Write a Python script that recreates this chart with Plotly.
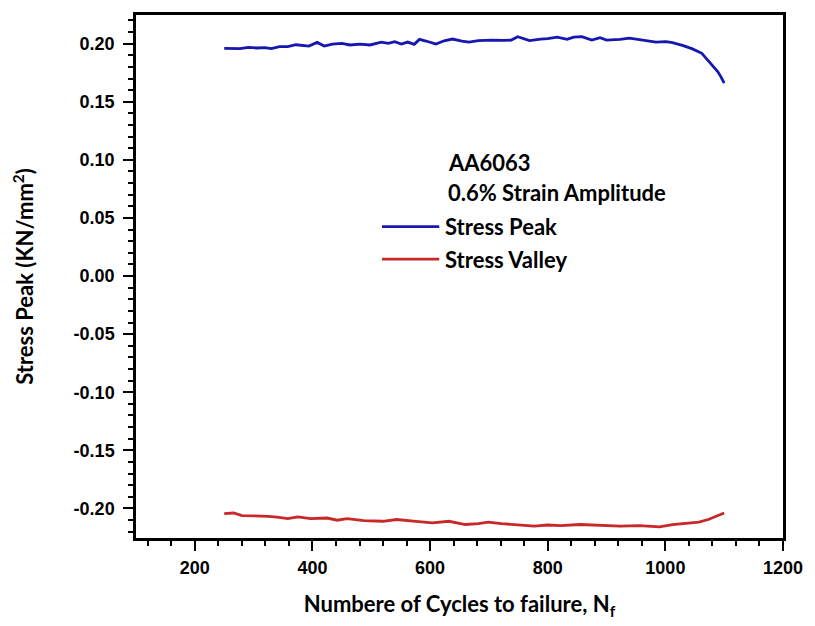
import plotly.graph_objects as go

# ---- data ----
peak_x = [250, 263, 277, 291, 305, 319, 330, 344, 358, 372, 386, 394, 408, 420, 434,
          450, 464, 481, 498, 517, 529, 540, 551, 562, 573, 582, 593, 610, 624, 638,
          654, 666, 682, 705, 727, 738, 749, 769, 788, 800, 816, 833, 844, 858, 875,
          889, 900, 923, 939, 962, 984, 1001, 1012, 1029, 1046, 1062, 1079, 1089, 1095, 1100]
peak_y = [0.1960, 0.1957, 0.1957, 0.1969, 0.1963, 0.1966, 0.1957, 0.1974, 0.1974, 0.1991,
          0.1980, 0.1980, 0.2011, 0.1980, 0.1997, 0.2003, 0.1989, 0.1997, 0.1989, 0.2014,
          0.2003, 0.2017, 0.1997, 0.2014, 0.1994, 0.2037, 0.2023, 0.1997, 0.2025, 0.2040,
          0.2023, 0.2014, 0.2026, 0.2031, 0.2028, 0.2031, 0.2060, 0.2026, 0.2040, 0.2043,
          0.2057, 0.2037, 0.2057, 0.2060, 0.2031, 0.2051, 0.2031, 0.2037, 0.2048, 0.2031,
          0.2014, 0.2017, 0.2009, 0.1985, 0.1955, 0.1917, 0.1820, 0.1760, 0.1710, 0.1660]

valley_x = [250, 266, 280, 300, 325, 340, 358, 375, 397, 425, 442, 459, 487, 520, 543,
            576, 604, 632, 660, 682, 699, 721, 744, 777, 800, 822, 855, 889, 923, 956,
            990, 1012, 1034, 1057, 1073, 1090, 1100]
valley_y = [-0.2045, -0.2040, -0.2062, -0.2062, -0.2068, -0.2075, -0.2088, -0.2074, -0.2088,
            -0.2083, -0.2102, -0.2088, -0.2105, -0.2111, -0.2096, -0.2111, -0.2125, -0.2111,
            -0.2139, -0.2131, -0.2119, -0.2131, -0.2139, -0.2153, -0.2143, -0.2148, -0.2139,
            -0.2148, -0.2153, -0.2148, -0.2159, -0.2139, -0.2131, -0.2119, -0.2096, -0.2062,
            -0.2040]

x_ticks = [200, 400, 600, 800, 1000, 1200]
y_ticks = [-0.20, -0.15, -0.10, -0.05, 0.00, 0.05, 0.10, 0.15, 0.20]
y_tick_text = ["-0.20", "-0.15", "-0.10", "-0.05", "0.00", "0.05", "0.10", "0.15", "0.20"]

BLUE = "#1616b0"
RED = "#c82828"
TXT_FONT = "Lato"
TICK_FONT = "Liberation Sans"

fig = go.Figure()
fig.add_trace(go.Scatter(x=peak_x, y=peak_y, mode="lines", name="Stress Peak",
                         line=dict(color=BLUE, width=2.8), showlegend=False))
fig.add_trace(go.Scatter(x=valley_x, y=valley_y, mode="lines", name="Stress Valley",
                         line=dict(color=RED, width=2.8), showlegend=False))

W, H = 815, 626
L, R, T, B = 136, 24, 13, 84
pw, ph = W - L - R, H - T - B

def px(x):
    return (x - L) / pw

def py(y):
    return (H - B - y) / ph

fig.update_layout(
    width=W, height=H,
    margin=dict(l=L, r=R, t=T, b=B),
    paper_bgcolor="white", plot_bgcolor="white",
    showlegend=False,
)

fig.update_xaxes(
    range=[100, 1200], tickmode="array", tickvals=x_ticks,
    ticks="outside", ticklen=10, tickwidth=2, tickcolor="black",
    showline=True, linewidth=2.5, linecolor="black", mirror=True,
    showgrid=False, zeroline=False, ticklabelstandoff=2,
    tickfont=dict(family=TICK_FONT, size=18, color="black", weight="bold"),
    minor=dict(dtick=40, tick0=0, ticks="outside", ticklen=5, tickwidth=2,
               tickcolor="black", showgrid=False),
    title=dict(text="Numbere of Cycles to failure, N<sub>f</sub>",
               font=dict(family=TXT_FONT, size=22, color="black", weight="bold"),
               standoff=20),
)
fig.update_yaxes(
    range=[-0.2255, 0.2247], tickmode="array", tickvals=y_ticks, ticktext=y_tick_text,
    ticks="outside", ticklen=10, tickwidth=2, tickcolor="black",
    showline=True, linewidth=2.5, linecolor="black", mirror=True,
    showgrid=False, zeroline=False, ticklabelstandoff=5,
    tickfont=dict(family=TICK_FONT, size=18, color="black", weight="bold"),
    minor=dict(dtick=0.01, tick0=0, ticks="outside", ticklen=5, tickwidth=2,
               tickcolor="black", showgrid=False),
    title=dict(text="Stress Peak (KN/mm<sup>2</sup>)",
               font=dict(family=TXT_FONT, size=22, color="black", weight="bold"),
               standoff=34),
)

# legend-like block drawn in paper coordinates
lab_font = dict(family=TXT_FONT, size=22, color="black", weight="bold")
for text, xx, yy in [("AA6063", 450, 162), ("0.6% Strain Amplitude", 450, 193),
                     ("Stress Peak", 447, 227), ("Stress Valley", 447, 260)]:
    fig.add_annotation(x=px(xx), y=py(yy), xref="paper", yref="paper", text=text,
                       showarrow=False, xanchor="left", yanchor="middle", font=lab_font)
for color, yy in [(BLUE, 227), (RED, 260)]:
    fig.add_shape(type="line", xref="paper", yref="paper", x0=px(385), x1=px(443),
                  y0=py(yy), y1=py(yy), line=dict(color=color, width=2.8))

fig.write_html("out.html")
